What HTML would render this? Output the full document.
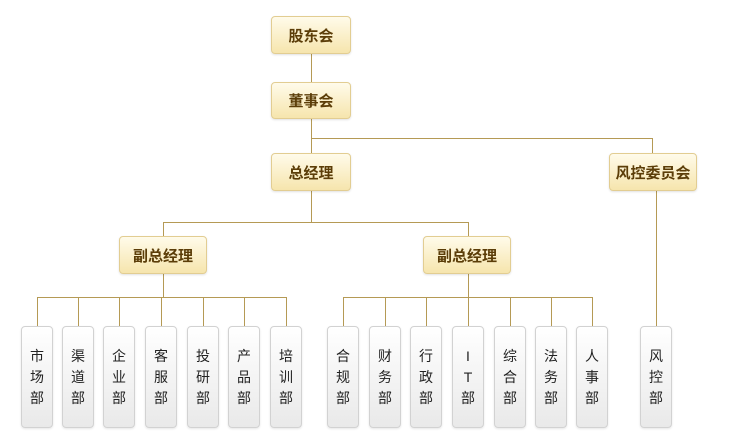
<!DOCTYPE html>
<html><head><meta charset="utf-8"><style>
body{margin:0;width:733px;height:442px;background:#fff;position:relative;overflow:hidden;font-family:"Liberation Sans","Noto Sans CJK SC",sans-serif}
.l{position:absolute;background:#b59a55}
.b{position:absolute;box-sizing:border-box;border:1px solid #e2cd92;border-radius:4px;background:linear-gradient(#fffbea,#f6e5ad);color:#5b3d08;font-size:15px;font-weight:bold;display:flex;align-items:center;justify-content:center;box-shadow:0 1px 2px rgba(0,0,0,.12)}
.d{position:absolute;box-sizing:border-box;width:32px;top:326px;height:102px;border:1px solid #d2d2d2;border-radius:4px;background:linear-gradient(#fff,#e9e9e9);color:#222;font-size:14px;display:flex;align-items:center;justify-content:center;text-align:center;line-height:21px;box-shadow:0 1px 2px rgba(0,0,0,.1)}
</style></head><body>
<div class="l" style="left:311px;top:54px;width:1px;height:28px"></div>
<div class="l" style="left:311px;top:119px;width:1px;height:34px"></div>
<div class="l" style="left:311px;top:138px;width:342px;height:1px"></div>
<div class="l" style="left:652px;top:138px;width:1px;height:15px"></div>
<div class="l" style="left:311px;top:191px;width:1px;height:31px"></div>
<div class="l" style="left:163px;top:222px;width:306px;height:1px"></div>
<div class="l" style="left:163px;top:222px;width:1px;height:15px"></div>
<div class="l" style="left:468px;top:222px;width:1px;height:15px"></div>
<div class="l" style="left:163px;top:274px;width:1px;height:23px"></div>
<div class="l" style="left:468px;top:274px;width:1px;height:23px"></div>
<div class="l" style="left:37px;top:297px;width:249px;height:1px"></div>
<div class="l" style="left:343px;top:297px;width:249px;height:1px"></div>
<div class="l" style="left:656px;top:191px;width:1px;height:135px"></div>
<div id="v"></div>
<div class="b" style="left:271px;top:16px;width:80px;height:38px">股东会</div>
<div class="b" style="left:271px;top:82px;width:80px;height:37px">董事会</div>
<div class="b" style="left:271px;top:153px;width:80px;height:38px">总经理</div>
<div class="b" style="left:609px;top:153px;width:88px;height:38px">风控委员会</div>
<div class="b" style="left:119px;top:236px;width:88px;height:38px">副总经理</div>
<div class="b" style="left:423px;top:236px;width:88px;height:38px">副总经理</div>
<script>
var c=[37,78,119,161,203,244,286,343,385,426,468,510,551,592];
var t=["市<br>场<br>部","渠<br>道<br>部","企<br>业<br>部","客<br>服<br>部","投<br>研<br>部","产<br>品<br>部","培<br>训<br>部","合<br>规<br>部","财<br>务<br>部","行<br>政<br>部","I<br>T<br>部","综<br>合<br>部","法<br>务<br>部","人<br>事<br>部"];
var h="";
for(var i=0;i<c.length;i++){h+='<div class="l" style="left:'+c[i]+'px;top:297px;width:1px;height:29px"></div><div class="d" style="left:'+(c[i]-16)+'px">'+t[i]+'</div>';}
h+='<div class="d" style="left:640px">风<br>控<br>部</div>';
document.getElementById("v").innerHTML=h;
</script>
</body></html>
